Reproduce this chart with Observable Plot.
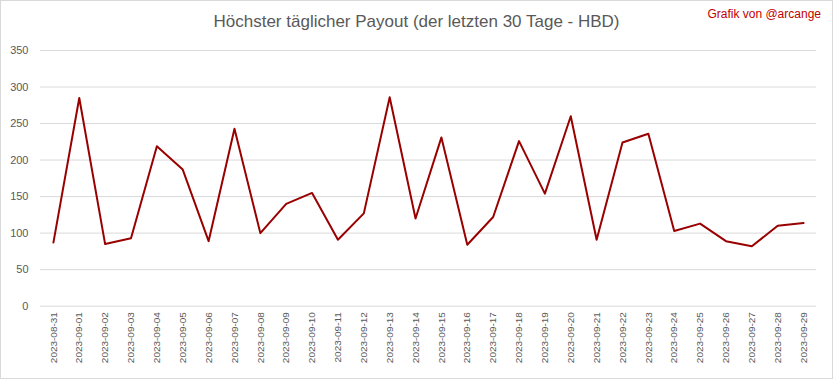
<!DOCTYPE html>
<html>
<head>
<meta charset="utf-8">
<script src="https://cdn.jsdelivr.net/npm/d3@7"></script>
<script src="https://cdn.jsdelivr.net/npm/@observablehq/plot@0.6"></script>
<style>
  html, body { margin: 0; padding: 0; background: #fff; }
  #wrap { position: relative; width: 833px; height: 379px; box-sizing: border-box; border: 1px solid #d9d9d9; overflow: hidden; background: #fff; }
  #title { position: absolute; left: 0; width: 831px; top: 11px; text-align: center; font-family: "Liberation Sans", Arial, sans-serif; font-size: 17px; color: #595959; white-space: nowrap; }
  #credit { position: absolute; right: 11px; top: 6px; font-family: "Liberation Sans", Arial, sans-serif; font-size: 12px; color: #c00000; white-space: nowrap; }
  #chart { position: absolute; left: -1px; top: 39px; }
</style>
</head>
<body>
<div id="wrap">
  <div id="title">Höchster täglicher Payout (der letzten 30 Tage - HBD)</div>
  <div id="credit">Grafik von @arcange</div>
  <div id="chart"></div>
</div>
<script>
const dates = ["2023-08-31","2023-09-01","2023-09-02","2023-09-03","2023-09-04","2023-09-05","2023-09-06","2023-09-07","2023-09-08","2023-09-09","2023-09-10","2023-09-11","2023-09-12","2023-09-13","2023-09-14","2023-09-15","2023-09-16","2023-09-17","2023-09-18","2023-09-19","2023-09-20","2023-09-21","2023-09-22","2023-09-23","2023-09-24","2023-09-25","2023-09-26","2023-09-27","2023-09-28","2023-09-29"];
const payouts = [87,285,85,93,219,187,89,243,100,140,155,91,127,286,120,231,84,122,226,154,260,91,224,236,103,113,89,82,110,114];
const yTicks = [0,50,100,150,200,250,300,350];

const data = dates.map((d, i) => ({date: d, value: payouts[i]}));

const chart = Plot.plot({
  width: 833,
  height: 339,
  marginTop: 10,
  marginBottom: 73,
  marginLeft: 40,
  marginRight: 16,
  style: { fontFamily: "Liberation Sans, Arial, sans-serif", fontSize: "10px", color: "#595959", background: "transparent" },
  x: { type: "point", domain: dates, padding: 0.5, round: false, label: null },
  y: { domain: [0, 350], label: null },
  marks: [
    Plot.ruleY(yTicks, { stroke: "#d9d9d9", strokeWidth: 1 }),
    Plot.axisY({ ticks: yTicks, tickSize: 0, tickPadding: 12, fontSize: 11, label: null }),
    Plot.axisX({ tickSize: 0, tickPadding: 6, tickRotate: -90, fontSize: 10, label: null }),
    Plot.line(data, { x: "date", y: "value", stroke: "#990000", strokeWidth: 2, strokeLinejoin: "round" })
  ]
});
document.getElementById("chart").appendChild(chart);
</script>
</body>
</html>
